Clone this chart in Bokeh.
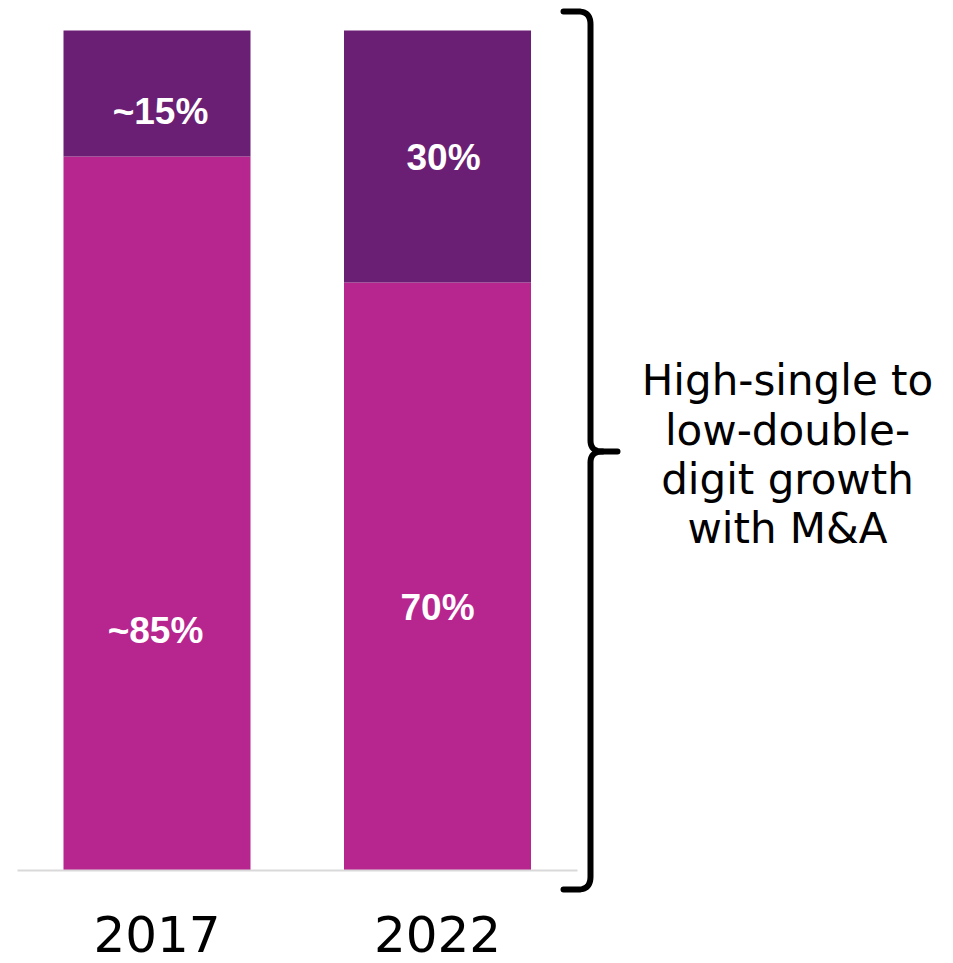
from bokeh.plotting import figure
from bokeh.models import Range1d, ColumnDataSource
from bokeh.core.properties import value
from bokeh.embed import file_html
from bokeh.resources import INLINE

# ---- data ----
years = ["2017", "2022"]
core_share = [85, 70]          # bottom segment (%)
other_share = [15, 30]         # top segment (%)
core_labels = ["~85%", "70%"]
other_labels = ["~15%", "30%"]
note_lines = ["High-single to", "low-double-", "digit growth", "with M&A"]

# ---- layout (pixel geometry helpers) ----
W, H = 953, 963
BASE_PX, TOP_PX = 870, 30           # pixel rows of 0% and 100%
PX_PER_PCT = (BASE_PX - TOP_PX) / 100.0
C0_PX, STEP_PX = 156.5, 280.5       # first bar centre, spacing


def xd(px):
    return (px - C0_PX) / STEP_PX


def yd(py):
    return (BASE_PX - py) / PX_PER_PCT


p = figure(width=W, height=H, output_backend="svg", toolbar_location=None,
           x_range=Range1d(xd(0), xd(W)), y_range=Range1d(yd(H), yd(0)),
           min_border=0, outline_line_color=None)
p.axis.visible = False
p.grid.visible = False
p.background_fill_color = "white"
p.border_fill_color = "white"

idx = list(range(len(years)))
bw = 187 / STEP_PX
tops = [a + b for a, b in zip(core_share, other_share)]
src = ColumnDataSource(dict(x=idx, core=core_share, total=tops))
p.vbar(x="x", width=bw, bottom=0, top="core", source=src,
       fill_color="#B7258F", line_color=None)
p.vbar(x="x", width=bw, bottom="core", top="total", source=src,
       fill_color="#6B1F74", line_color=None)

# baseline
p.segment(x0=[xd(17)], y0=[0], x1=[xd(577)], y1=[0],
          line_color="#D9D9D9", line_width=2)

# segment labels (layout positions in % units)
core_label_y = [28.6, 31.3]
other_label_y = [90.4, 84.9]
other_dx = [3.5 / STEP_PX, 6 / STEP_PX]
core_dx = [-1.5 / STEP_PX, 0]
p.text(x=[i + d for i, d in zip(idx, core_dx)], y=core_label_y, text=core_labels,
       text_font=value("Liberation Sans"), text_font_style="bold",
       text_font_size="37px", text_color="white",
       text_align="center", text_baseline="middle")
p.text(x=[i + d for i, d in zip(idx, other_dx)], y=other_label_y, text=other_labels,
       text_font=value("Liberation Sans"), text_font_style="bold",
       text_font_size="37px", text_color="white",
       text_align="center", text_baseline="middle")

# year labels
p.text(x=idx, y=[yd(933)] * len(idx), text=years,
       text_font=value("DejaVu Sans"), text_font_size="50px",
       text_color="black", text_align="center", text_baseline="middle")

# brace
def qcurve(p0, c, p1, n=12):
    pts = []
    for k in range(n + 1):
        t = k / n
        x = (1 - t) ** 2 * p0[0] + 2 * (1 - t) * t * c[0] + t ** 2 * p1[0]
        y = (1 - t) ** 2 * p0[1] + 2 * (1 - t) * t * c[1] + t ** 2 * p1[1]
        pts.append((x, y))
    return pts

VX = 590
pts = [(563, 11), (578, 11)]
pts += qcurve((578, 11), (590, 11), (VX, 24))
pts += [(VX, 440)]
pts += qcurve((VX, 440), (VX, 451), (602, 451))
pts += [(617, 451)]
pts2 = [(602, 451)]
pts2 += qcurve((602, 451), (VX, 451), (VX, 462))
pts2 += [(VX, 876)]
pts2 += qcurve((VX, 876), (VX, 889), (578, 889))
pts2 += [(563, 889)]
for seq in (pts, pts2):
    p.line([xd(a) for a, b in seq], [yd(b) for a, b in seq],
           line_color="black", line_width=6, line_cap="round", line_join="round")

# note text
note_y_px = [380, 430, 479, 528]
p.text(x=[xd(787)] * len(note_lines), y=[yd(v) for v in note_y_px], text=note_lines,
       text_font=value("DejaVu Sans"), text_font_size="42px",
       text_color="black", text_align="center", text_baseline="middle")

open("out.html", "w").write(file_html(p, INLINE))
